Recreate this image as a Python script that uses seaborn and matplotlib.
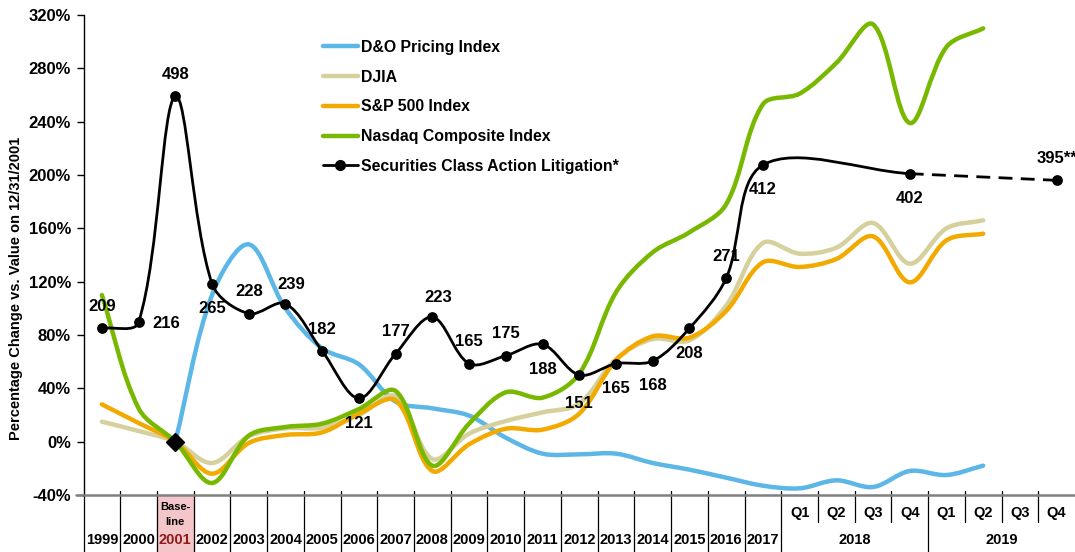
import matplotlib
matplotlib.use("Agg")
import matplotlib.pyplot as plt
import matplotlib.transforms as mtransforms
from matplotlib.path import Path
from matplotlib.patches import PathPatch, Rectangle
from matplotlib.lines import Line2D
import numpy as np
import pandas as pd
import seaborn as sns

# categories: 19 years, then the quarters of 2018 and 2019
years = ['1999', '2000', '2001', '2002', '2003', '2004', '2005', '2006', '2007', '2008',
         '2009', '2010', '2011', '2012', '2013', '2014', '2015', '2016', '2017']
quarters = ['Q1', 'Q2', 'Q3', 'Q4', 'Q1', 'Q2', 'Q3', 'Q4']
quarter_years = ['2018', '2019']

# percentage change vs. 12/31/2001, one value per slot from 1999 to 2019 Q2
do_pricing = [None, None, 0, 110, 148, 100, 70, 58, 30, 25, 19.5, 3, -9, -9.5, -9, -16, -21, -27,
              -33, -35, -29, -34, -22, -25, -18]
djia = [15, 8, 0, -16, 4, 10, 10.5, 20, 34, -13, 6, 15.5, 22, 28.5, 62, 77, 76, 102,
        149, 141, 145.5, 164, 133.5, 160, 166]
sp500 = [28, 14, 0, -24, -1, 5, 7, 21, 31, -22, -2, 9.7, 9, 21, 61, 79, 78, 98,
         134.5, 131, 137, 154, 119.5, 151, 156]
nasdaq = [110, 25, 0, -31, 4.5, 11, 13.5, 24.5, 38, -18, 13.5, 37, 33, 51, 112, 142, 157, 178,
          253, 261, 284, 313, 239, 296, 310]

# securities class action filings (1999-2017 and 2018 Q4), plus 2019 projection
lit_slot = list(range(19)) + [22]
lit_count = [209, 216, 498, 265, 228, 239, 182, 121, 177, 223, 165, 175, 188, 151, 165, 168,
             208, 271, 412, 402]
lit_pct = [85, 89.5, 259, 118.5, 96, 103.5, 68, 32.5, 66, 93.5, 58.5, 64.5, 73, 50, 58.5, 60.5,
           85, 122.5, 207.5, 201]
lit_side = ['above', 'right', 'above', 'below', 'above', 'above', 'above', 'below', 'above', 'above',
            'above', 'above', 'below', 'below', 'below', 'below', 'below', 'above', 'below', 'below']
proj_slot = 26
proj_pct = 196
proj_label = '395**'

series = [
    ('D&O Pricing Index', do_pricing, '#5CB6E6'),
    ('DJIA', djia, '#D5D09C'),
    ('S&P 500 Index', sp500, '#F2AA00'),
    ('Nasdaq Composite Index', nasdaq, '#78B800'),
]

# pixel size of one slot / one percent, used to weigh the smoothing like Excel
PX_SLOT = 36.75
PX_PCT = 480 / 360


def smooth_path(xs, ys):
    # Excel-like smoothed line: cubic Bezier segments through the points,
    # tangents weighted by neighbouring segment lengths on screen
    pts = np.column_stack([xs, ys]).astype(float)
    n = len(pts)
    scale = np.array([PX_SLOT, PX_PCT])
    seg = [np.hypot(*((pts[i + 1] - pts[i]) * scale)) for i in range(n - 1)]
    out_c, in_c = [], []
    for i in range(n):
        prev = pts[i - 1] if i > 0 else pts[i]
        nxt = pts[i + 1] if i < n - 1 else pts[i]
        tan = nxt - prev
        dl = seg[i - 1] if i > 0 else 0.0
        dr = seg[i] if i < n - 1 else 0.0
        tot = dl + dr
        out_c.append(pts[i] + tan * dr / tot / 3)
        in_c.append(pts[i] - tan * dl / tot / 3)
    verts = [pts[0]]
    codes = [Path.MOVETO]
    for i in range(n - 1):
        verts += [out_c[i], in_c[i + 1], pts[i + 1]]
        codes += [Path.CURVE4] * 3
    return Path(verts, codes)


sns.set_theme(style='white')
plt.rcParams['font.family'] = ['Liberation Sans', 'DejaVu Sans']
plt.rcParams['font.weight'] = 'bold'
plt.rcParams['text.color'] = 'black'
plt.rcParams['axes.labelcolor'] = 'black'
plt.rcParams['ytick.color'] = 'black'

fig = plt.figure(figsize=(10.75, 5.52), dpi=100)
ax = fig.add_axes([83.5 / 1075, 57 / 552, 991.5 / 1075, 480 / 552])

for z, (name, vals, color) in enumerate(series):
    df = pd.DataFrame({'slot': range(len(vals)), 'pct': vals}).dropna()
    ax.add_patch(PathPatch(smooth_path(df['slot'], df['pct']), facecolor='none', edgecolor=color,
                           lw=3.2, capstyle='round', joinstyle='round', zorder=2 + z))

# baseline marker
ax.plot([2], [djia[2]], marker='D', color='black', ms=9, zorder=7)

lit = pd.DataFrame({'slot': lit_slot, 'pct': lit_pct, 'count': lit_count, 'side': lit_side})
ax.add_patch(PathPatch(smooth_path(lit['slot'], lit['pct']), facecolor='none', edgecolor='black',
                       lw=2, zorder=7))
ax.plot([lit_slot[-1], proj_slot], [lit_pct[-1], proj_pct], color='black', lw=2,
        dashes=(5, 3), zorder=7)
sns.scatterplot(x=list(lit['slot']) + [proj_slot], y=list(lit['pct']) + [proj_pct], color='black',
                s=60, edgecolor='black', linewidth=0, zorder=8, ax=ax, legend=False)

offsets = {'above': (0, 22), 'below': (0, -25), 'right': (28, -1)}
nudges = {'239': (6, -3), '223': (6, -3), '151': (0, -4)}
for s, p, c, side in zip(lit['slot'], lit['pct'], lit['count'], lit['side']):
    dx, dy = offsets[side]
    ndx, ndy = nudges.get(str(c), (0, 0))
    ax.annotate(str(c), (s, p), xytext=(dx + ndx, dy + ndy), textcoords='offset pixels',
                ha='center', va='center', fontsize=12, fontweight='bold', zorder=9)
ax.annotate(proj_label, (proj_slot, proj_pct), xytext=(0, 22), textcoords='offset pixels',
            ha='center', va='center', fontsize=12, fontweight='bold', zorder=9)

ax.set_xlim(-0.5, 26.5)
ax.set_ylim(-40, 320)
ticks = list(range(-40, 321, 40))
ax.set_yticks(ticks)
ax.set_yticklabels([f'{t}%' for t in ticks], fontsize=12, fontweight='bold')
ax.set_xticks([])
ax.tick_params(axis='y', left=True, length=5, width=1, color='black', direction='out', pad=4)
for side in ['top', 'right']:
    ax.spines[side].set_visible(False)
ax.spines['left'].set_color('black')
ax.spines['left'].set_linewidth(1)
ax.spines['bottom'].set_color('#808080')
ax.spines['bottom'].set_linewidth(1.8)
ax.set_ylabel('Percentage Change vs. Value on 12/31/2001', fontsize=10.5, fontweight='bold')
ax.yaxis.set_label_coords(-0.061, 0.431)

# category table under the axis
tr = mtransforms.blended_transform_factory(ax.transData, ax.transAxes)
ax.plot([-0.7, -0.5], [0, 0], color='#808080', lw=1.8, transform=tr, clip_on=False)
ax.add_patch(Rectangle((1.5, -0.119), 1, 0.119, transform=tr, color='#F5C6C9',
                       clip_on=False, zorder=0))
full_bounds = [b - 0.5 for b in range(20)] + [22.5]
short_bounds = [19.5, 20.5, 21.5, 23.5, 24.5, 25.5]
for b in full_bounds:
    top = 0 if b == -0.5 else 0.009
    ax.plot([b, b], [top, -0.12], color='black', lw=0.9, transform=tr, clip_on=False)
for b in short_bounds:
    ax.plot([b, b], [0.009, -0.057], color='black', lw=0.9, transform=tr, clip_on=False)
for i, y in enumerate(years):
    ax.text(i, -0.094, y, transform=tr, ha='center', va='center', fontsize=10.5, fontweight='bold',
            color='#8E1B1B' if y == '2001' else 'black')
ax.text(2, -0.026, 'Base-', transform=tr, ha='center', va='center', fontsize=8, fontweight='bold')
ax.text(2, -0.056, 'line', transform=tr, ha='center', va='center', fontsize=8, fontweight='bold')
for i, q in enumerate(quarters):
    ax.text(19 + i, -0.038, q, transform=tr, ha='center', va='center', fontsize=10.5,
            fontweight='bold')
for i, y in enumerate(quarter_years):
    ax.text(20.5 + 4 * i, -0.094, y, transform=tr, ha='center', va='center', fontsize=10.5,
            fontweight='bold')

handles = [Line2D([], [], color=c, lw=3.2, solid_capstyle='round') for _, _, c in series]
handles.append(Line2D([], [], color='black', lw=2, marker='o', ms=7))
labels = [n for n, _, _ in series] + ['Securities Class Action Litigation*']
ax.legend(handles, labels, loc='upper left', bbox_to_anchor=(323 / 1075, 1 - 40 / 552),
          bbox_transform=fig.transFigure, frameon=False, handlelength=2.2,
          handletextpad=0.2, labelspacing=0.93, borderpad=0, borderaxespad=0,
          prop={'weight': 'bold', 'size': 11.4})

fig.savefig('out.png', dpi=100)
